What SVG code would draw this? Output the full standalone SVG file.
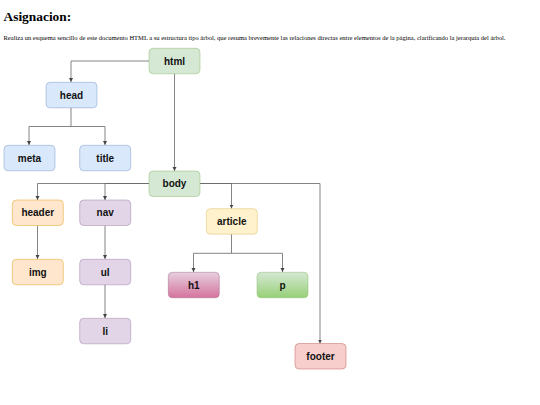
<svg xmlns="http://www.w3.org/2000/svg" width="540" height="405" viewBox="0 0 540 405">
<style>
.t{font-family:"Liberation Serif",serif;fill:#000}
.n rect{stroke-width:0.8;stroke-opacity:0.55}
.n text{font-family:"Liberation Sans",Arial,sans-serif;font-weight:bold;font-size:10px;text-anchor:middle;fill:#111}
.c path{fill:none;stroke:#666;stroke-width:0.8}
.green{fill:#d5e8d4;stroke:#82b366}
.blue{fill:#dae8fc;stroke:#6c8ebf}
.orange{fill:#ffe6cc;stroke:#d79b00}
.purple{fill:#e1d5e7;stroke:#9673a6}
.yellow{fill:#fff2cc;stroke:#d6b656}
.red{fill:#f8cecc;stroke:#b85450}
</style>
<defs>
<marker id="a" markerUnits="userSpaceOnUse" markerWidth="5" markerHeight="5" refX="4" refY="2" orient="auto">
<path d="M0,0 L4,2 L0,4 Z" fill="#444"/>
</marker>
<linearGradient id="gh1" x1="0" y1="0" x2="0" y2="1"><stop offset="0" stop-color="#e6d0de"/><stop offset="1" stop-color="#d5739d"/></linearGradient>
<linearGradient id="gp" x1="0" y1="0" x2="0" y2="1"><stop offset="0" stop-color="#d5e8d4"/><stop offset="1" stop-color="#97d077"/></linearGradient>
</defs>
<rect width="540" height="405" fill="#fff"/>
<text class="t" x="3.5" y="20.5" font-size="13.4" font-weight="bold">Asignacion:</text>
<text class="t" x="3.5" y="40" font-size="6.8" textLength="502" lengthAdjust="spacingAndGlyphs">Realiza un esquema sencillo de este documento HTML a su estructura tipo árbol, que resuma brevemente las relaciones directas entre elementos de la página, clarificando la jerarquía del árbol.</text>
<g id="connectors" class="c">
<path d="M149,61 H71 V82" marker-end="url(#a)"/>
<path d="M174.5,74 V171" marker-end="url(#a)"/>
<path d="M71,107.5 V126.5 H29 V145" marker-end="url(#a)"/>
<path d="M71,126.5 H105 V145" marker-end="url(#a)"/>
<path d="M149,183.5 H37.5 V200" marker-end="url(#a)"/>
<path d="M149,183.5 H105 V200" marker-end="url(#a)"/>
<path d="M200,183.5 H231.5 V208.5" marker-end="url(#a)"/>
<path d="M200,183.5 H320 V343.5" marker-end="url(#a)"/>
<path d="M37.5,225.5 V259" marker-end="url(#a)"/>
<path d="M105,225.5 V259" marker-end="url(#a)"/>
<path d="M105,284.5 V318" marker-end="url(#a)"/>
<path d="M231.5,234 V253.3 H193.5 V272" marker-end="url(#a)"/>
<path d="M231.5,253.3 H282.5 V272" marker-end="url(#a)"/>
</g>
<g id="html" class="n"><rect class="green" x="149" y="48.3" width="51" height="25.5" rx="4"/><text x="174.5" y="64.5">html</text></g>
<g id="head" class="n"><rect class="blue" x="46" y="82.3" width="51" height="25.5" rx="4"/><text x="71.5" y="98.5">head</text></g>
<g id="meta" class="n"><rect class="blue" x="4" y="145.3" width="51" height="25.5" rx="4"/><text x="29.5" y="161.5">meta</text></g>
<g id="title" class="n"><rect class="blue" x="79.7" y="145.3" width="51" height="25.5" rx="4"/><text x="105.2" y="161.5">title</text></g>
<g id="body" class="n"><rect class="green" x="149" y="171" width="51" height="25.5" rx="4"/><text x="174.5" y="187.2">body</text></g>
<g id="header" class="n"><rect class="orange" x="12.3" y="200" width="51" height="25.5" rx="4"/><text x="37.8" y="216.2">header</text></g>
<g id="nav" class="n"><rect class="purple" x="79.7" y="200" width="51" height="25.5" rx="4"/><text x="105.2" y="216.2">nav</text></g>
<g id="img" class="n"><rect class="orange" x="12.3" y="259.3" width="51" height="25.5" rx="4"/><text x="37.8" y="275.5">img</text></g>
<g id="ul" class="n"><rect class="purple" x="79.7" y="259.3" width="51" height="25.5" rx="4"/><text x="105.2" y="275.5">ul</text></g>
<g id="li" class="n"><rect class="purple" x="79.7" y="318.3" width="51" height="25.5" rx="4"/><text x="105.2" y="334.5">li</text></g>
<g id="article" class="n"><rect class="yellow" x="206.3" y="208.7" width="51" height="25.5" rx="4"/><text x="231.8" y="224.9">article</text></g>
<g id="h1" class="n"><rect fill="url(#gh1)" stroke="#996185" x="168.3" y="272.3" width="51" height="25.5" rx="4"/><text x="193.8" y="288.5">h1</text></g>
<g id="p" class="n"><rect fill="url(#gp)" stroke="#82b366" x="257" y="272.3" width="51" height="25.5" rx="4"/><text x="282.5" y="288.5">p</text></g>
<g id="footer" class="n"><rect class="red" x="295" y="343.5" width="51" height="25.5" rx="4"/><text x="320.5" y="359.7">footer</text></g>
</svg>
